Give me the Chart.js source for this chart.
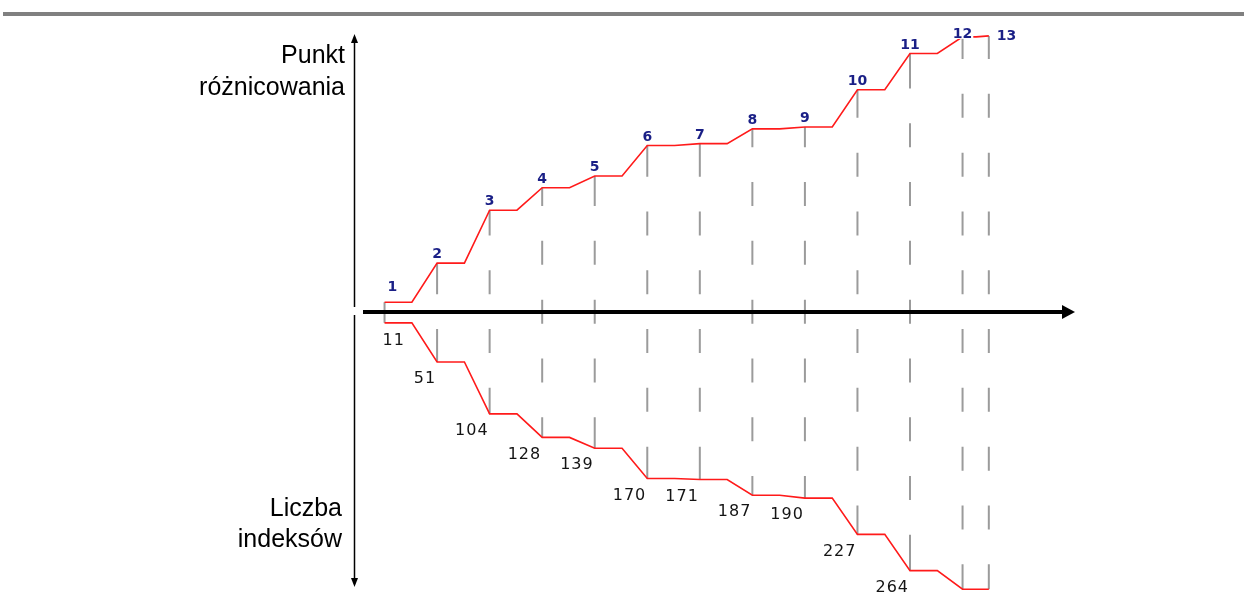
<!DOCTYPE html>
<html>
<head>
<meta charset="utf-8">
<script src="https://cdn.jsdelivr.net/npm/chart.js@4/dist/chart.umd.min.js"></script>
<style>
  html, body { margin: 0; padding: 0; background: #ffffff; }
  canvas { display: block; }
</style>
</head>
<body>
<canvas id="c" width="1244" height="608"></canvas>
<script>
// ---- data ----
const stepLabels = ['1','2','3','4','5','6','7','8','9','10','11','12','13'];
const stepPositions = [1, 2, 3, 4, 5, 6, 7, 8, 9, 10, 11, 12, 12.5];
const punktRoznicowania = [10, 50, 104, 127, 139, 170, 172, 187, 189, 227, 264, 281, 282];
const liczbaIndeksow = [11, 51, 104, 128, 139, 170, 171, 187, 190, 227, 264, 283, 283];
const indeksLabels = ['11','51','104','128','139','170','171','187','190','227','264','',''];
const axisTitleTop = ['Punkt', 'różnicowania'];
const axisTitleBottom = ['Liczba', 'indeksów'];

// ---- build step lines (flat run, then slope to next step) ----
function stepLine(values, sign) {
  const pts = [];
  for (let i = 0; i < values.length; i++) {
    pts.push({x: stepPositions[i], y: sign * values[i]});
    if (i < values.length - 1) {
      const run = (stepPositions[i + 1] - stepPositions[i]) * 0.52;
      pts.push({x: stepPositions[i] + run, y: sign * values[i]});
    }
  }
  return pts;
}

// dash pattern for the vertical guide at one step, aligned to a common rhythm
function guideDash(ctx, i) {
  const ys = ctx.chart.scales && ctx.chart.scales.y;
  if (!ys) return [24, 34.8];
  const y0 = ys.getPixelForValue(0);
  const yt = ys.getPixelForValue(punktRoznicowania[i]);
  const yb = ys.getPixelForValue(-liczbaIndeksow[i]);
  if (!isFinite(y0) || !isFinite(yt) || !isFinite(yb) || yb <= yt) return [24, 34.8];
  const P = 58.8, D = 24, G = P - D, H = P / 2;
  const eA = y0 + 41;
  const L1 = ((((eA - yt - 15) % H) + H) % H) + 15;
  let pos = yt + L1;
  if (pos >= yb - 1) return [];
  const arr = [L1];
  for (let k = 0; k < 40; k++) {
    const gapEnd = pos + G;
    if (gapEnd >= yb) {
      if (yb - pos < 12) { arr[arr.length - 1] += (yb - pos) + 1; }
      arr.push(G + 50);
      break;
    }
    arr.push(G);
    arr.push(D);
    pos = gapEnd + D;
    if (pos >= yb) { arr.push(G + 50); break; }
  }
  if (arr.length % 2 === 1) arr.push(G);
  return arr;
}

const datasets = [
  {
    data: stepLine(punktRoznicowania, 1),
    borderColor: '#ff1a1a', borderWidth: 1.6, pointRadius: 0, tension: 0, order: 0
  },
  {
    data: stepLine(liczbaIndeksow, -1),
    borderColor: '#ff1a1a', borderWidth: 1.6, pointRadius: 0, tension: 0, order: 0
  }
];
stepPositions.forEach((p, i) => {
  datasets.push({
    data: [{x: p, y: punktRoznicowania[i]}, {x: p, y: -liczbaIndeksow[i]}],
    borderColor: '#9b9b9b', borderWidth: 2, pointRadius: 0, tension: 0,
    borderCapStyle: 'butt', order: 1,
    borderDash: (ctx) => guideDash(ctx, i)
  });
});

const decor = {
  id: 'decor',
  afterDatasetsDraw(chart) {
    const c = chart.ctx;
    const xs = chart.scales.x, ys = chart.scales.y;
    const area = chart.chartArea;
    const y0 = ys.getPixelForValue(0);
    c.save();
    // top rule
    c.fillStyle = '#808080';
    c.fillRect(3, 12, 1241, 4);

    // horizontal axis arrow
    c.strokeStyle = '#000'; c.fillStyle = '#000';
    c.lineWidth = 4;
    c.beginPath(); c.moveTo(area.left + 31, y0); c.lineTo(area.right - 12, y0); c.stroke();
    c.beginPath(); c.moveTo(area.right, y0); c.lineTo(area.right - 13, y0 - 7); c.lineTo(area.right - 13, y0 + 7); c.closePath(); c.fill();

    // vertical axis arrow
    const vx = 354.5;
    c.lineWidth = 1.5;
    c.beginPath(); c.moveTo(vx, 42); c.lineTo(vx, y0 - 5); c.stroke();
    c.beginPath(); c.moveTo(vx, y0 + 3); c.lineTo(vx, 580); c.stroke();
    c.beginPath(); c.moveTo(vx, 34); c.lineTo(vx - 3.5, 43); c.lineTo(vx + 3.5, 43); c.closePath(); c.fill();
    c.beginPath(); c.moveTo(vx, 587); c.lineTo(vx - 3.5, 578); c.lineTo(vx + 3.5, 578); c.closePath(); c.fill();

    // axis titles
    c.font = '25px "Liberation Sans", Arial, sans-serif';
    c.fillStyle = '#000';
    c.textAlign = 'right'; c.textBaseline = 'alphabetic';
    c.fillText(axisTitleTop[0], 345, 63);
    c.fillText(axisTitleTop[1], 345, 95);
    c.fillText(axisTitleBottom[0], 342, 516);
    c.fillText(axisTitleBottom[1], 342, 547);

    // step numbers (top)
    c.font = 'bold 14px "DejaVu Sans", Verdana, sans-serif';
    c.textBaseline = 'alphabetic';
    const n = stepLabels.length;
    stepLabels.forEach((t, i) => {
      const px = xs.getPixelForValue(stepPositions[i]);
      const py = ys.getPixelForValue(punktRoznicowania[i]);
      let tx = px, align = 'center', by = py - 5;
      if (i === 0) { tx = px + 3; align = 'left'; by = py - 11; }
      if (i === n - 2) { by = py + 1; }
      if (i === n - 1) { tx = px + 8; align = 'left'; by = py + 4; }
      c.textAlign = align;
      const w = c.measureText(t).width;
      const left = align === 'center' ? tx - w / 2 : tx;
      c.fillStyle = '#ffffff';
      c.fillRect(left - 1, by - 11, w + 2, 12);
      c.fillStyle = '#1a1f86';
      c.fillText(t, tx, by);
    });

    // index counts (bottom)
    c.font = '16px "DejaVu Sans", Verdana, sans-serif';
    if ('letterSpacing' in c) c.letterSpacing = '1px';
    c.fillStyle = '#141414';
    c.textBaseline = 'top';
    indeksLabels.forEach((t, i) => {
      if (!t) return;
      const px = xs.getPixelForValue(stepPositions[i]);
      const py = ys.getPixelForValue(-liczbaIndeksow[i]);
      if (i === 0) { c.textAlign = 'left'; c.fillText(t, px - 2, py + 10); }
      else { c.textAlign = 'right'; c.fillText(t, px - 1, py + 9); }
    });
    c.restore();
  }
};

new Chart(document.getElementById('c'), {
  type: 'line',
  data: { datasets },
  options: {
    responsive: false,
    animation: false,
    events: [],
    layout: { autoPadding: false, padding: { left: 332, right: 169, top: 30, bottom: 8 } },
    plugins: { legend: { display: false }, tooltip: { enabled: false }, title: { display: false } },
    scales: {
      x: { type: 'linear', min: 0, max: 14.14, display: false },
      y: { type: 'linear', min: -294, max: 288, display: false }
    }
  },
  plugins: [decor]
});
</script>
</body>
</html>
